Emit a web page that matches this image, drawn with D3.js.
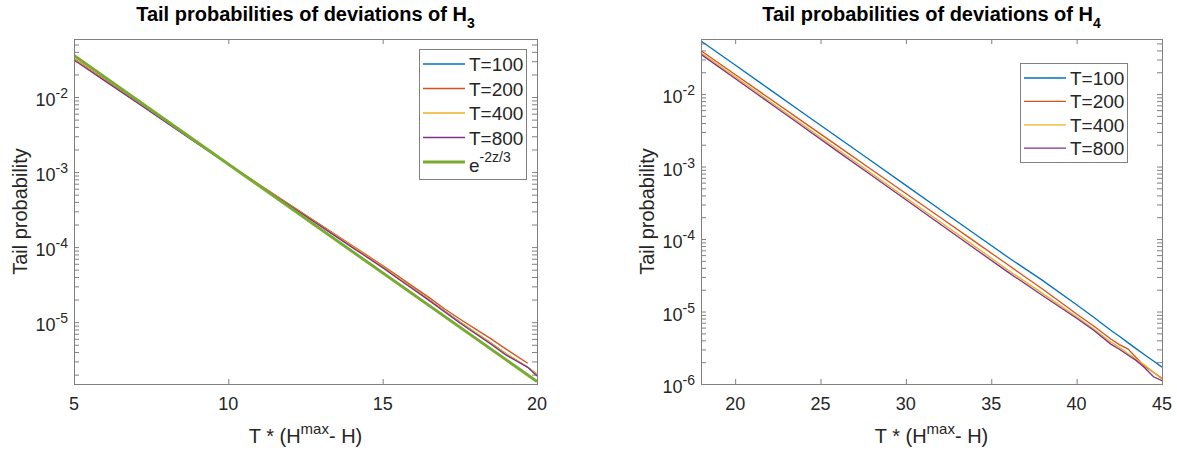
<!DOCTYPE html>
<html><head><meta charset="utf-8">
<script src="https://cdn.jsdelivr.net/npm/d3@7"></script>
<style>
body{margin:0;background:#fff;}
text{font-family:"Liberation Sans",Arial,Helvetica,sans-serif;fill:#262626;}
</style>
</head><body>
<svg id="chart" width="1177" height="451"></svg>
<script>
// ---------- Data: left panel (H3) ----------
const zH3 = [5,6,7,8,9,10,11,12,13,14,15,15.5,16,16.5,17,17.5,18,18.5,19,19.7,20];
const h3T100 = [3.21e-2,1.68e-2,8.80e-3,4.61e-3,2.42e-3,1.27e-3,6.77e-4,3.62e-4,1.94e-4,1.03e-4,5.52e-5,3.90e-5,2.80e-5,2.01e-5,1.42e-5,1.01e-5,7.30e-6,5.30e-6,3.78e-6,2.50e-6,2.02e-6];
const h3T200 = [3.25e-2,1.70e-2,8.89e-3,4.66e-3,2.43e-3,1.27e-3,6.84e-4,3.67e-4,1.97e-4,1.06e-4,5.70e-5,4.12e-5,2.95e-5,2.14e-5,1.51e-5,1.10e-5,8.13e-6,6.03e-6,4.37e-6,2.84e-6,null];
const h3T400 = [3.20e-2,1.67e-2,8.79e-3,4.60e-3,2.42e-3,1.27e-3,6.76e-4,3.61e-4,1.93e-4,1.03e-4,5.50e-5,3.89e-5,2.79e-5,2.00e-5,1.41e-5,1.00e-5,7.33e-6,5.31e-6,3.80e-6,2.51e-6,2.04e-6];
const h3T800 = [3.11e-2,1.64e-2,8.63e-3,4.54e-3,2.39e-3,1.26e-3,6.68e-4,3.56e-4,1.89e-4,1.00e-4,5.33e-5,3.80e-5,2.72e-5,1.95e-5,1.38e-5,9.77e-6,7.08e-6,5.13e-6,3.63e-6,2.51e-6,1.91e-6];
const zTheory = [5,20];
const theoryVals = [3.57e-2,1.62e-6];   // e^{-2z/3} at the two ends (straight on log axis)

// ---------- Data: right panel (H4) ----------
const zH4 = [18,20,22,24,26,28,30,32,34,36,38,40,41,42,42.5,43,43.5,44,44.5,45];
const h4T100 = [5.40e-2,2.51e-2,1.17e-2,5.45e-3,2.54e-3,1.18e-3,5.50e-4,2.56e-4,1.19e-4,5.57e-5,2.69e-5,1.24e-5,8.32e-6,5.50e-6,4.55e-6,3.72e-6,3.05e-6,2.51e-6,2.08e-6,1.71e-6];
const h4T200 = [3.95e-2,1.86e-2,8.73e-3,4.10e-3,1.93e-3,9.04e-4,4.25e-4,2.00e-4,9.35e-5,4.37e-5,2.04e-5,9.25e-6,6.31e-6,4.17e-6,3.50e-6,3.05e-6,2.30e-6,1.74e-6,1.45e-6,1.20e-6];
const h4T400 = [3.72e-2,1.73e-2,8.00e-3,3.72e-3,1.73e-3,8.00e-4,3.72e-4,1.73e-4,8.04e-5,3.72e-5,1.78e-5,8.49e-6,5.75e-6,3.80e-6,3.20e-6,2.63e-6,2.20e-6,1.82e-6,1.45e-6,1.16e-6];
const h4T800 = [3.53e-2,1.64e-2,7.57e-3,3.51e-3,1.62e-3,7.52e-4,3.48e-4,1.61e-4,7.46e-5,3.47e-5,1.66e-5,8.07e-6,5.50e-6,3.55e-6,3.02e-6,2.51e-6,2.10e-6,1.66e-6,1.26e-6,1.11e-6];

// ---------- Labels / ticks ----------
const seriesNames = ["T=100","T=200","T=400","T=800"];
const seriesColors = ["#0072BD","#D95319","#EDB120","#7E2F8E"];
const theoryColor = "#77AC30";
const xTicksH3 = [5,10,15,20];
const xTicksH4 = [20,25,30,35,40,45];
const titleMain = "Tail probabilities of deviations of H";
const yLabel = "Tail probability";

const svg = d3.select("#chart");
const AX = "#808080";

function drawPanel(cfg){
  const x = d3.scaleLinear().domain(cfg.xDomain).range([cfg.x0, cfg.x1]);
  const y = d3.scaleLog().domain(cfg.yDomain).range([cfg.y1, cfg.y0]);
  const g = svg.append("g");
  const clipId = "clip" + cfg.id;
  svg.append("clipPath").attr("id", clipId).append("rect")
    .attr("x", cfg.x0).attr("y", cfg.y0).attr("width", cfg.x1-cfg.x0).attr("height", cfg.y1-cfg.y0);

  const lo = Math.ceil(Math.log10(cfg.yDomain[0]) - 1e-9), hi = Math.floor(Math.log10(cfg.yDomain[1]));
  const decades = d3.range(lo, hi+1).map(e => Math.pow(10, e));
  const minors = [];
  for (let e = lo-1; e <= hi; e++) for (let m = 2; m <= 9; m++) {
    const v = m*Math.pow(10,e);
    if (v > cfg.yDomain[0] && v < cfg.yDomain[1]) minors.push(v);
  }

  const styleAxis = sel => { sel.select(".domain").remove(); sel.selectAll(".tick line").attr("stroke", AX); sel.selectAll(".tick text").remove(); };

  g.append("g").attr("transform",`translate(0,${cfg.y1})`).call(d3.axisBottom(x).tickValues(cfg.xTicks).tickSize(-5).tickSizeOuter(0)).call(styleAxis);
  g.append("g").attr("transform",`translate(0,${cfg.y0})`).call(d3.axisTop(x).tickValues(cfg.xTicks).tickSize(-5).tickSizeOuter(0)).call(styleAxis);
  g.append("g").attr("transform",`translate(${cfg.x0},0)`).call(d3.axisLeft(y).tickValues(decades.concat(minors)).tickSize(-5).tickSizeOuter(0)).call(styleAxis);
  g.append("g").attr("transform",`translate(${cfg.x1},0)`).call(d3.axisRight(y).tickValues(decades.concat(minors)).tickSize(-5).tickSizeOuter(0)).call(styleAxis);

  g.selectAll(".xl").data(cfg.xTicks).enter().append("text")
    .attr("x", d => x(d)).attr("y", cfg.y1 + 26).attr("text-anchor","middle")
    .style("font-size","18px").text(d => d);
  decades.forEach(v => {
    const e = Math.round(Math.log10(v));
    const t = g.append("text").attr("x", cfg.x0 - 6).attr("y", y(v) + 9).attr("text-anchor","end").style("font-size","18px");
    t.append("tspan").text("10");
    t.append("tspan").attr("dy", -8).style("font-size","14px").text(String(e));
  });

  const lineGen = d3.line().defined(d => d[1] != null).x(d => x(d[0])).y(d => y(d[1]));
  const lines = g.append("g").attr("clip-path", `url(#${clipId})`);
  cfg.series.forEach((s, i) => {
    lines.append("path").datum(cfg.z.map((z, k) => [z, s[k]]))
      .attr("d", lineGen).attr("fill","none").attr("stroke", seriesColors[i]).attr("stroke-width", 1.3);
  });
  if (cfg.theory) {
    lines.append("path").datum(zTheory.map((z,k) => [z, theoryVals[k]]))
      .attr("d", lineGen).attr("fill","none").attr("stroke", theoryColor).attr("stroke-width", 3);
  }

  g.append("rect").attr("x", cfg.x0+0.5).attr("y", cfg.y0+0.5)
    .attr("width", cfg.x1-cfg.x0).attr("height", cfg.y1-cfg.y0)
    .attr("fill","none").attr("stroke", AX).attr("stroke-width",1);

  const tt = g.append("text").attr("x", (cfg.x0+cfg.x1)/2).attr("y", 21).attr("text-anchor","middle")
    .style("font-size","20px").style("font-weight","bold").style("fill","#000");
  tt.append("tspan").text(titleMain);
  tt.append("tspan").attr("dy", 7).style("font-size","14px").text(cfg.sub);

  const xl = g.append("text").attr("x", (cfg.x0+cfg.x1)/2).attr("y", 443).attr("text-anchor","middle").style("font-size","20px");
  xl.append("tspan").text("T * (H");
  xl.append("tspan").attr("dy", -9).style("font-size","15px").text("max");
  xl.append("tspan").attr("dy", 9).text("- H)");

  g.append("text").attr("transform", `translate(${cfg.x0-47},${(cfg.y0+cfg.y1)/2}) rotate(-90)`)
    .attr("text-anchor","middle").style("font-size","20px").text(yLabel);

  const L = cfg.legend;
  const lg = g.append("g");
  lg.append("rect").attr("x", L.x+0.5).attr("y", L.y+0.5).attr("width", L.w).attr("height", L.h)
    .attr("fill","#fff").attr("stroke", AX);
  const entries = seriesNames.map((n,i) => ({name:n, color:seriesColors[i], w:1.3}));
  if (cfg.theory) entries.push({name:"theory", color:theoryColor, w:3});
  entries.forEach((en, i) => {
    const cy = L.rowY0 + i*L.dy;
    lg.append("line").attr("x1", L.x+4).attr("x2", L.x+46).attr("y1", cy).attr("y2", cy)
      .attr("stroke", en.color).attr("stroke-width", en.w);
    const t = lg.append("text").attr("x", L.x+50).attr("y", cy+7).style("font-size","19px");
    if (en.name === "theory") {
      t.attr("y", cy+10);
      t.append("tspan").text("e");
      t.append("tspan").attr("dy",-10).style("font-size","14px").text("-2z/3");
    } else t.text(en.name);
  });
}

drawPanel({id:"L", x0:74, x1:537, y0:39, y1:384, xDomain:[5,20], yDomain:[1.5e-6,0.0593],
  xTicks:xTicksH3, z:zH3, series:[h3T100,h3T200,h3T400,h3T800], theory:true, sub:"3",
  legend:{x:419, y:49, w:107, h:130, rowY0:64, dy:24.5}});
drawPanel({id:"R", x0:701, x1:1162, y0:39, y1:384, xDomain:[18,45], yDomain:[1e-6,0.0575],
  xTicks:xTicksH4, z:zH4, series:[h4T100,h4T200,h4T400,h4T800], theory:false, sub:"4",
  legend:{x:1020, y:63, w:107, h:99, rowY0:78, dy:23.4}});
</script>
</body></html>
